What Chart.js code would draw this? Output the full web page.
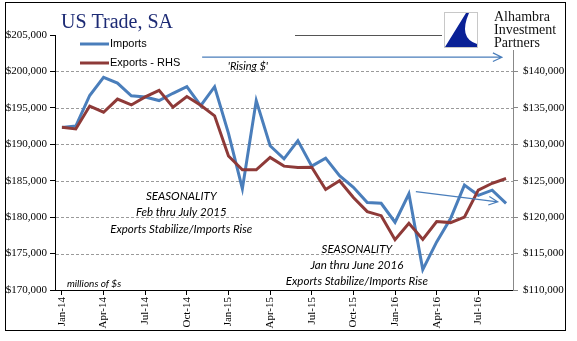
<!DOCTYPE html>
<html>
<head>
<meta charset="utf-8">
<script src="https://cdn.jsdelivr.net/npm/chart.js@4"></script>
<style>
  body { margin: 0; background: #fff; }
  #wrap { width: 577px; height: 341px; position: relative; }
</style>
</head>
<body>
<div id="wrap"><canvas id="tradeChart"></canvas></div>
<script>
const months = [
  "Jan-14","Feb-14","Mar-14","Apr-14","May-14","Jun-14","Jul-14","Aug-14","Sep-14","Oct-14","Nov-14","Dec-14",
  "Jan-15","Feb-15","Mar-15","Apr-15","May-15","Jun-15","Jul-15","Aug-15","Sep-15","Oct-15","Nov-15","Dec-15",
  "Jan-16","Feb-16","Mar-16","Apr-16","May-16","Jun-16","Jul-16","Aug-16","Sep-16"
];

// left axis, millions of $
const imports = [
  192300, 192500, 196700, 199200, 198400, 196650, 196500, 196000, 197000, 197900, 195300, 197900,
  191500, 183900, 196000, 189800, 188000, 190500, 187000, 188100, 185700, 184100, 182000, 181900,
  179300, 183200, 172800, 176600, 179800, 184400, 183000, 183700, 181900
];

// right axis
const exportsRhs = [
  132350, 132100, 135250, 134400, 136200, 135400, 136500, 137400, 135100, 136550, 135350, 133900,
  128400, 126500, 126500, 128200, 127000, 126800, 126850, 123800, 125000, 122700, 120760, 120200,
  116900, 119150, 116950, 119400, 119250, 120000, 123700, 124650, 125300
];

const leftRange = [170000, 205000];
const rightRange = [110000, 145000];
const step = 5000;

const BLUE = "#4a7ebb";
const RED = "#8e3a38";

function money(v) {
  return "$" + Number(v).toLocaleString("en-US");
}

// helpers to place notes through the scales
function xAt(chart, i) {
  const x = chart.scales.x;
  return x.left + (i + 0.5) * (x.width / months.length);
}
function yAt(chart, v) {
  return chart.scales.y.getPixelForValue(v);
}

function arrow(ctx, x1, y1, x2, y2) {
  ctx.save();
  ctx.strokeStyle = BLUE;
  ctx.lineWidth = 1.2;
  ctx.beginPath();
  ctx.moveTo(x1, y1);
  ctx.lineTo(x2, y2);
  const a = Math.atan2(y2 - y1, x2 - x1);
  const len = 10;
  ctx.moveTo(x2 - len * Math.cos(a - 0.45), y2 - len * Math.sin(a - 0.45));
  ctx.lineTo(x2, y2);
  ctx.lineTo(x2 - len * Math.cos(a + 0.45), y2 - len * Math.sin(a + 0.45));
  ctx.stroke();
  ctx.restore();
}

// dashed horizontal gridlines at the left axis steps (drawn as little dashes)
const dashedGrid = {
  id: "dashedGrid",
  beforeDraw(chart) {
    const ctx = chart.ctx;
    const area = chart.chartArea;
    ctx.save();
    ctx.fillStyle = "#9a9a9a";
    for (let v = leftRange[0] + step; v < leftRange[1]; v += step) {
      const py = Math.round(yAt(chart, v));
      for (let px = Math.ceil(area.left) + 1; px < area.right; px += 5) {
        ctx.fillRect(px, py, Math.min(3, area.right - px), 1);
      }
    }
    ctx.restore();
  }
};

const decorations = {
  id: "decorations",
  afterDraw(chart) {
    const ctx = chart.ctx;
    const area = chart.chartArea;
    ctx.save();

    // title
    ctx.fillStyle = "#1c2a74";
    ctx.font = "20px 'Liberation Serif'";
    ctx.textBaseline = "alphabetic";
    ctx.textAlign = "left";
    ctx.fillText("US Trade, SA", 61, 28);

    // logo patch (covers top of right axis like the pasted image)
    ctx.fillStyle = "#fff";
    ctx.fillRect(440, 4, 124, 46);
    ctx.strokeStyle = "#555";
    ctx.lineWidth = 1;
    ctx.beginPath();
    ctx.moveTo(295, 35.5);
    ctx.lineTo(442, 35.5);
    ctx.stroke();
    ctx.strokeStyle = "#c8c8c8";
    ctx.strokeRect(444.5, 12.5, 33, 35);
    ctx.fillStyle = "#0a2196";
    ctx.beginPath();
    ctx.moveTo(466, 13);
    ctx.lineTo(445, 47);
    ctx.lineTo(477, 47);
    ctx.lineTo(477, 44);
    ctx.quadraticCurveTo(458, 38, 469, 13);
    ctx.closePath();
    ctx.fill();
    ctx.fillStyle = "#111";
    ctx.font = "14px 'Liberation Serif'";
    ctx.textBaseline = "middle";
    ctx.fillText("Alhambra", 494, 17);
    ctx.fillText("Investment", 494, 30);
    ctx.fillText("Partners", 494, 43);

    // legend
    const lx = area.left + 25;
    ctx.lineWidth = 3;
    ctx.strokeStyle = BLUE;
    ctx.beginPath(); ctx.moveTo(lx, 44); ctx.lineTo(lx + 29, 44); ctx.stroke();
    ctx.strokeStyle = RED;
    ctx.beginPath(); ctx.moveTo(lx, 63); ctx.lineTo(lx + 29, 63); ctx.stroke();
    ctx.fillStyle = "#000";
    ctx.font = "11px 'Liberation Sans'";
    ctx.fillText("Imports", lx + 30, 44);
    ctx.fillText("Exports - RHS", lx + 30, 63);

    // arrows
    arrow(ctx, xAt(chart, 10.1), yAt(chart, 201950), xAt(chart, 31.7), yAt(chart, 201950));
    arrow(ctx, xAt(chart, 25.5), yAt(chart, 183500), xAt(chart, 31.4), yAt(chart, 182100));

    // notes
    ctx.fillStyle = "#000";
    ctx.textAlign = "center";
    ctx.font = "italic 11px Lato";
    ctx.fillText("'Rising $'", xAt(chart, 13.4), yAt(chart, 200750));

    ctx.font = "italic 11.5px Lato";
    const n1 = xAt(chart, 8.6);
    ctx.fillText("SEASONALITY", n1, yAt(chart, 182800));
    ctx.fillText("Feb thru July 2015", n1, yAt(chart, 180600));
    ctx.fillText("Exports Stabilize/Imports Rise", n1, yAt(chart, 178400));
    const n2 = xAt(chart, 21.25);
    ctx.fillText("SEASONALITY", n2, yAt(chart, 175650));
    ctx.fillText("Jan thru June 2016", n2, yAt(chart, 173450));
    ctx.fillText("Exports Stabilize/Imports Rise", n2, yAt(chart, 171250));

    ctx.textAlign = "left";
    ctx.font = "italic 10px Lato";
    ctx.fillText("millions of $s", xAt(chart, 0.36), yAt(chart, 170800));

    // outer frame
    ctx.strokeStyle = "#000";
    ctx.lineWidth = 1;
    ctx.strokeRect(5.5, 2.5, 560, 328);
    ctx.restore();
  }
};

new Chart(document.getElementById("tradeChart"), {
  type: "line",
  data: {
    labels: months,
    datasets: [
      {
        label: "Imports",
        data: imports,
        yAxisID: "y",
        borderColor: BLUE,
        borderWidth: 3,
        pointRadius: 0,
        tension: 0,
        order: 1
      },
      {
        label: "Exports - RHS",
        data: exportsRhs,
        yAxisID: "y1",
        borderColor: RED,
        borderWidth: 3,
        pointRadius: 0,
        tension: 0,
        order: 0
      }
    ]
  },
  options: {
    responsive: true,
    maintainAspectRatio: false,
    animation: false,
    layout: { padding: { top: 35, left: 0, right: 0, bottom: 0 } },
    plugins: {
      legend: { display: false },
      tooltip: { enabled: false }
    },
    scales: {
      x: {
        offset: true,
        afterFit: s => { s.height = 51; },
        border: { color: "#000", width: 1 },
        grid: {
          offset: false,
          drawOnChartArea: false,
          drawTicks: true,
          tickLength: 5,
          color: c => (c.index % 3 === 0 ? "#000" : "rgba(0,0,0,0)")
        },
        ticks: {
          autoSkip: false,
          minRotation: 90,
          maxRotation: 90,
          padding: 2,
          color: "#000",
          font: { family: "'Liberation Serif'", size: 11 },
          callback: (v, i) => (i % 3 === 0 ? months[i] : "")
        }
      },
      y: {
        position: "left",
        min: leftRange[0],
        max: leftRange[1],
        afterFit: s => { s.width = 55; },
        border: { color: "#000", width: 1 },
        grid: {
          drawOnChartArea: false,
          color: "#000",
          tickLength: 5
        },
        ticks: {
          stepSize: step,
          padding: 3,
          color: "#000",
          font: { family: "'Liberation Serif'", size: 11 },
          callback: v => money(v)
        }
      },
      y1: {
        position: "right",
        min: rightRange[0],
        max: rightRange[1],
        afterFit: s => { s.width = 64; },
        border: { color: "#888", width: 1 },
        grid: {
          drawOnChartArea: false,
          color: "#888",
          tickLength: 5
        },
        ticks: {
          stepSize: step,
          padding: 5,
          color: "#000",
          font: { family: "'Liberation Serif'", size: 11 },
          callback: v => money(v)
        }
      }
    }
  },
  plugins: [dashedGrid, decorations]
});
</script>
</body>
</html>
